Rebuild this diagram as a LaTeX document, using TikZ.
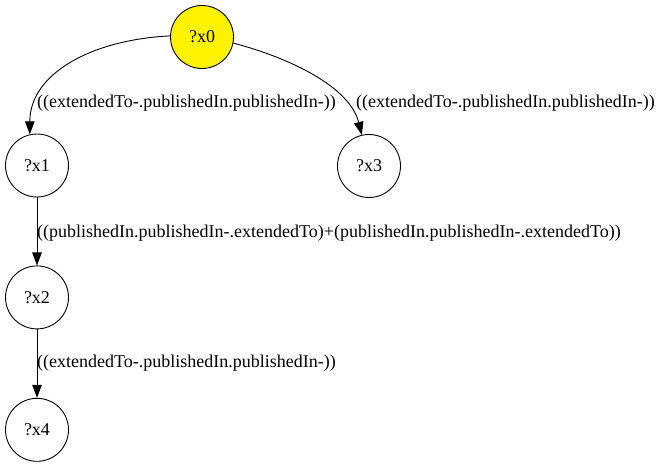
\documentclass[tikz,border=0pt]{standalone}
\usepackage{fontspec}
\setmainfont{Liberation Serif}
\usepackage{xcolor}
\usetikzlibrary{positioning, arrows.meta}
\tikzset{
	var/.style={draw, circle, line width=0.9pt, minimum size=63pt, inner sep=0pt, font=\fontsize{18}{20}\selectfont},
	root/.style={var, fill=yellow},
	lbl/.style={anchor=west, inner sep=0pt, font=\fontsize{18}{20}\selectfont},
	edge/.style={line width=0.9pt, -{Triangle[length=13pt, width=9.5pt]}},
}

\begin{document}
\begin{tikzpicture}[x=1pt, y=-1pt]
\useasboundingbox (0,0) rectangle (661,464);

\node[root] (x0) at (202,37) {?x0};
\node[var] (x1) at (37,165.5) {?x1};
\node[var] (x3) at (369,166) {?x3};
\node[var, below=68pt of x1] (x2) {?x2};
\node[var, below=68.5pt of x2] (x4) {?x4};

% edge labels
\node[lbl] (l01) at (37,103) {((extendedTo-.publishedIn.publishedIn-))};
\node[lbl] (l03) at (356,103) {((extendedTo-.publishedIn.publishedIn-))};
\node[lbl] (l12) at (37,233.5) {((publishedIn.publishedIn-.extendedTo)+(publishedIn.publishedIn-.extendedTo))};
\node[lbl] (l24) at (37,363.5) {((extendedTo-.publishedIn.publishedIn-))};

\draw[edge] (x0.178) .. controls +(-80,4) and +(0,-60) .. (x1.103);
\draw[edge] (x0.349) .. controls +(57,15) and +(-12,-48) .. (x3.103);
\draw[edge] (x1) -- (x2);
\draw[edge] (x2) -- (x4);

\end{tikzpicture}
\end{document}
